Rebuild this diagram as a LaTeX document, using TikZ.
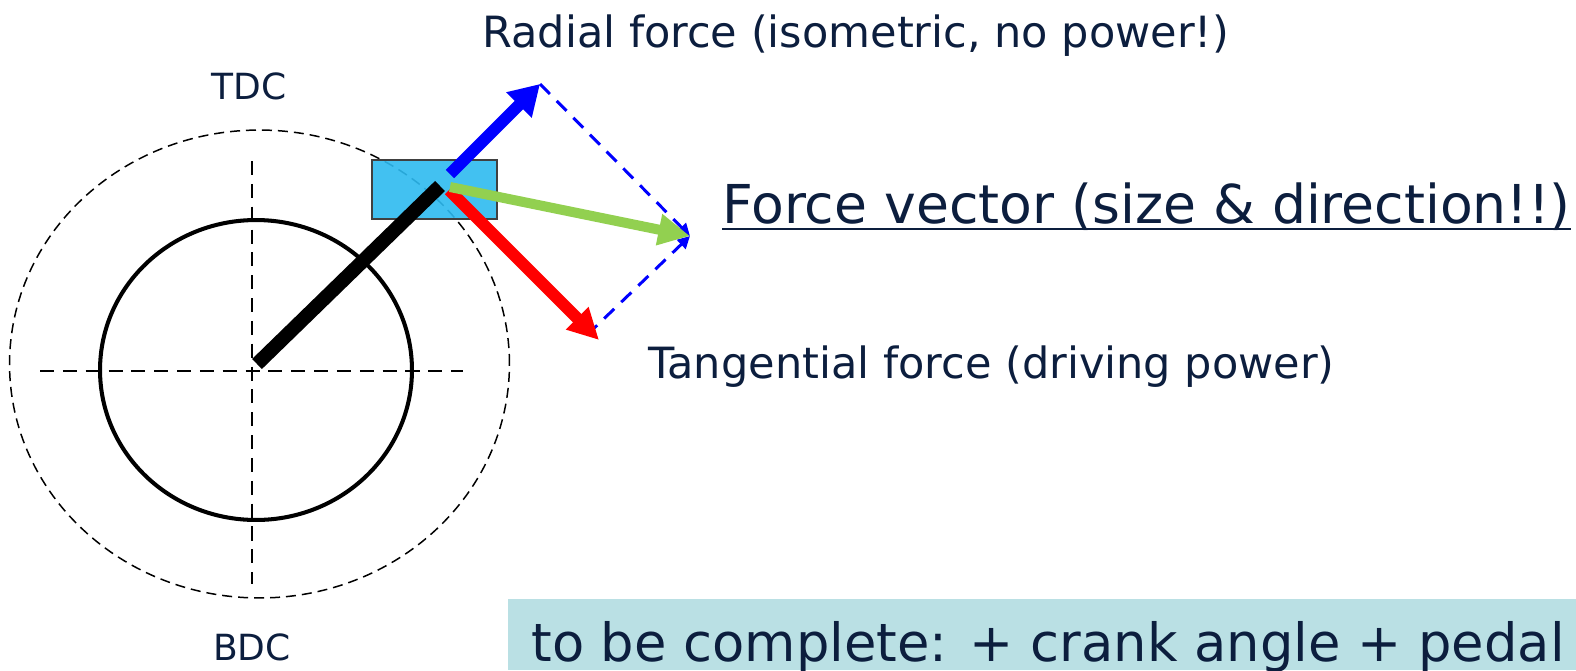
\documentclass[tikz,border=0pt]{standalone}
\usepackage{fontspec}
\setmainfont{DejaVu Sans}
\usepackage{xcolor}
\usepackage{tikz}
\usetikzlibrary{arrows.meta,calc}

\definecolor{navy}{RGB}{12,30,62}
\definecolor{pedalfill}{RGB}{45,186,240}
\definecolor{notefill}{RGB}{186,224,228}
\definecolor{resgreen}{RGB}{146,208,80}

\begin{document}
\begin{tikzpicture}[x=0.02cm,y=-0.02cm,
  lbl/.style={inner sep=0pt,text=navy,font=\fontsize{24.5}{28}\selectfont},
  big/.style={inner sep=0pt,text=navy,font=\fontsize{30.5}{36}\selectfont},
  dc/.style={inner sep=0pt,text=navy,font=\fontsize{20.5}{24}\selectfont}]
  \useasboundingbox (0,0) rectangle (1576,670);
  % crank circles and axes
  \coordinate (hub) at (257,364);
  \draw[line width=0.85pt, dash pattern=on 5.7pt off 3.4pt] (259.5,364) ellipse [x radius=5cm, y radius=4.68cm];
  \draw[line width=2.3pt] (256,370) ellipse [x radius=3.12cm, y radius=3cm];
  \coordinate (axl) at (40,371);
  \coordinate (axr) at (463,371);
  \coordinate (axt) at (252,161);
  \coordinate (axb) at (252,584);
  \draw[line width=1.1pt, dash pattern=on 8pt off 5pt] (axl) -- (axr);
  \draw[line width=1.1pt, dash pattern=on 8pt off 5pt] (axt) -- (axb);
  % pedal and crank arm
  \node[draw=black!75, line width=1.1pt, fill=pedalfill, fill opacity=0.9,
        minimum width=2.5cm, minimum height=1.18cm, inner sep=0pt] (pedal) at (434.5,189.5) {};
  \coordinate (crankend) at (440,186);
  \draw[line width=8pt] (hub) -- (crankend);
  % force vectors
  \coordinate (radbase) at (450,174);
  \coordinate (radtip) at (540,84);
  \coordinate (resbase) at (450,187);
  \coordinate (restip) at (690,236);
  \coordinate (tanbase) at (449,190);
  \coordinate (tantip) at (599,340);
  \coordinate (tancorner) at (587,335);
  \draw[-{Triangle[length=7pt,width=7pt]}, blue, line width=1.7pt, dash pattern=on 8pt off 5.5pt] (radtip) -- (restip);
  \draw[-{Triangle[length=7pt,width=7pt]}, blue, line width=1.7pt, dash pattern=on 8pt off 5.5pt] (tancorner) -- (restip);
  \draw[-{Triangle[length=17pt,width=19.4pt]}, blue, line width=6.8pt] (radbase) -- (radtip);
  \draw[-{Triangle[length=17.6pt,width=17pt]}, red, line width=6.8pt] (tanbase) -- (tantip);
  \draw[-{Triangle[length=18pt,width=17pt]}, resgreen, line width=5.7pt] (resbase) -- (restip);
  % labels
  \node[dc, anchor=base] (tdc) at (249,99) {TDC};
  \node[dc, anchor=base] (bdc) at (252,660) {BDC};
  \node[lbl, anchor=base west] (radlabel) at (482,47) {Radial force (isometric, no power!)};
  \node[lbl, anchor=base west] (tanlabel) at (648,378) {Tangential force (driving power)};
  \node[big, anchor=base west] (fvlabel) at (722,223) {Force vector (size \& direction!!)};
  \draw[navy, line width=1.4pt] ($(fvlabel.base west)+(0,6)$) -- ($(fvlabel.base east)+(0,6)$);
  % note box
  \fill[notefill] (508,599) rectangle (1576,670);
  \node[big, anchor=base west, font=\fontsize{30}{36}\selectfont] (note) at (531,661) {to be complete: + crank angle + pedal};
\end{tikzpicture}
\end{document}
